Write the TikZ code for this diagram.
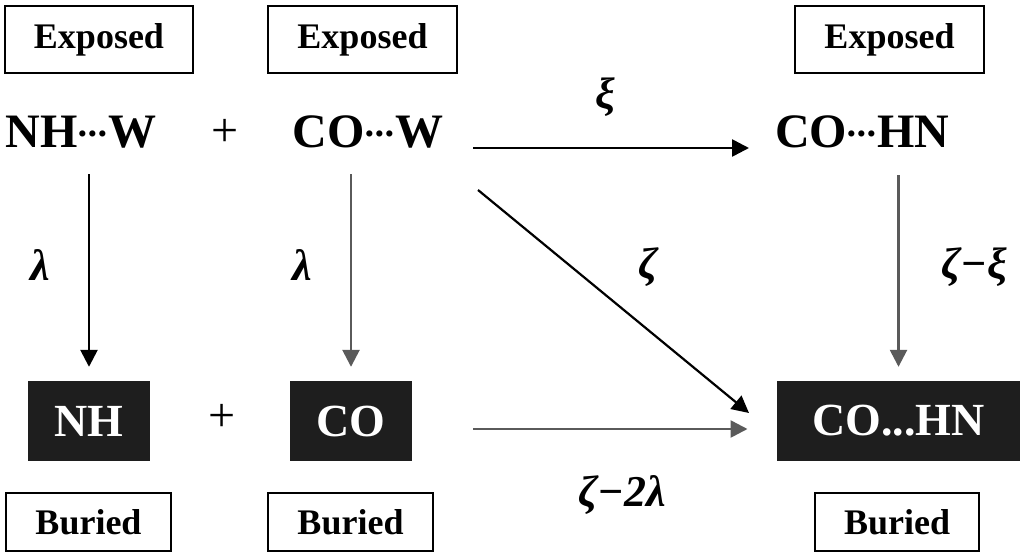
\documentclass[tikz,border=0pt]{standalone}
\usepackage{fontspec}
\setmainfont{Liberation Serif}
\usetikzlibrary{arrows.meta,calc}
\definecolor{boxfill}{HTML}{1E1E1E}
\definecolor{arrgrey}{HTML}{5A5A5A}
\newcommand\hbdots{\raisebox{1pt}{\fontsize{38}{38}\selectfont\bfseries\kern-1.5pt·\kern-2.5pt·\kern-2.5pt·\kern-1.5pt}}
\begin{document}
\begin{tikzpicture}[x=1pt,y=-1pt,
  tagbox/.style={draw=black,line width=2.5pt,inner sep=0pt,font=\fontsize{36}{40}\selectfont\bfseries},
  species/.style={inner sep=0pt,text height=32pt,text depth=0pt,font=\fontsize{48}{52}\selectfont\bfseries},
  darkbox/.style={fill=boxfill,text=white,inner sep=0pt,minimum height=80pt,font=\fontsize{46}{50}\selectfont\bfseries},
  plus/.style={inner sep=0pt,font=\fontsize{48}{52}\selectfont},
  rate/.style={inner sep=0pt,font=\fontsize{44}{48}\selectfont\bfseries\itshape},
  arr/.style={line width=2.6pt,-{Triangle[length=17pt,width=17pt]}},
]
\useasboundingbox (0,0) rectangle (1024,557);
% top tags
\node[tagbox,minimum width=188pt,minimum height=67pt] (ex1) at (99,39.5) {Exposed};
\node[tagbox,minimum width=189pt,minimum height=67pt] (ex2) at (362.5,39.5) {Exposed};
\node[tagbox,minimum width=189pt,minimum height=67pt] (ex3) at (889.5,39.5) {Exposed};
% exposed species
\node[species] (nhw) at (81,131) {NH\hbdots W};
\node[plus] (p1) at (225,133) {+};
\node[species] (cow) at (368,131) {CO\hbdots W};
\node[species] (cohn) at (862,131) {CO\hbdots HN};
% buried species
\node[darkbox,minimum width=122pt] (nh) at (89,421) {NH};
\node[plus] (p2) at (222,418) {+};
\node[darkbox,minimum width=122pt] (co) at (351,421) {CO};
\node[darkbox,minimum width=243pt] (cohnb) at (898.5,421) {CO...HN};
% bottom tags
\node[tagbox,minimum width=165pt,minimum height=58pt] (bu1) at (88.5,522) {Buried};
\node[tagbox,minimum width=165pt,minimum height=58pt] (bu2) at (350.5,522) {Buried};
\node[tagbox,minimum width=164pt,minimum height=58pt] (bu3) at (897,522) {Buried};
% arrows
\draw[arr,black,shorten <=27pt,shorten >=14pt] (nhw.south -| nh.north) -- (nh.north);
\draw[arr,arrgrey,shorten <=27pt,shorten >=14pt] (cow.south -| co.north) -- (co.north);
\draw[arr,arrgrey,shorten <=28pt,shorten >=14pt] (cohn.south -| cohnb.north) -- (cohnb.north);
\draw[arr,black] ($(cow.center)+(105,17)$) -- ($(cohn.center)+(-113,17)$);
\draw[arr,black,line width=2.2pt] ($(cow.center)+(110,59)$) -- ($(cohnb.center)+(-149.5,-8)$);
\draw[arr,arrgrey] ($(co.center)+(122,8)$) -- ($(cohnb.center)+(-151,8)$);
% rate labels
\node[rate] (lxi) at (605,97) {ξ};
\node[rate] (ll1) at (40,265) {λ};
\node[rate] (ll2) at (302,265) {λ};
\node[rate] (lz) at (648,267) {ζ};
\node[rate] (lzx) at (974,267) {ζ−ξ};
\node[rate] (lz2) at (622,495) {ζ−2λ};
\end{tikzpicture}
\end{document}
